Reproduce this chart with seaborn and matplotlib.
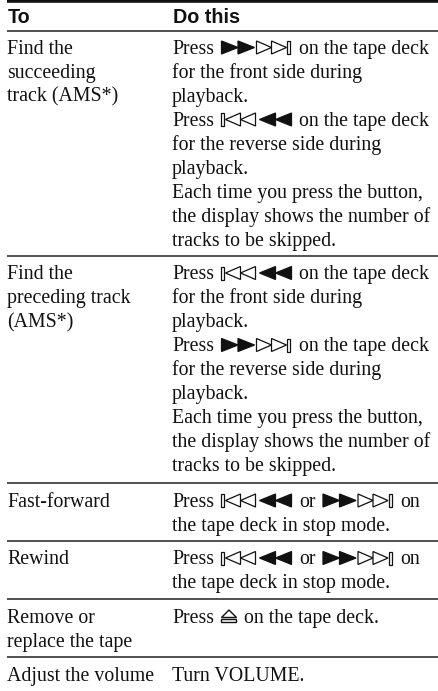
import re
import matplotlib
matplotlib.use('Agg')
import matplotlib.pyplot as plt
from matplotlib.patches import Polygon, Rectangle
import seaborn as sns

# Table content
header_to = "To"
header_do = "Do this"

to_labels = [
    ["Find the", "succeeding", "track (AMS*)"],
    ["Find the", "preceding track", "(AMS*)"],
    ["Fast-forward"],
    ["Rewind"],
    ["Remove or", "replace the tape"],
    ["Adjust the volume"],
]

do_labels = [
    ["Press {ff} on the tape deck", "for the front side during", "playback.",
     "Press {rw} on the tape deck", "for the reverse side during", "playback.",
     "Each time you press the button,", "the display shows the number of",
     "tracks to be skipped."],
    ["Press {rw} on the tape deck", "for the front side during", "playback.",
     "Press {ff} on the tape deck", "for the reverse side during", "playback.",
     "Each time you press the button,", "the display shows the number of",
     "tracks to be skipped."],
    ["Press {rw} or {ff} on", "the tape deck in stop mode."],
    ["Press {rw} or {ff} on", "the tape deck in stop mode."],
    ["Press {ej} on the tape deck."],
    ["Turn VOLUME."],
]

# Layout in pixels
row_first_baseline = [53.5, 279, 506.5, 564, 623, 681]
rule_y = [30.5, 256, 482.5, 541, 599, 657]
line_step = 24
to_x = 7.5
do_x = 172
gap = 7.5
ink = '#111111'
body_size = 14.3

sns.set_theme(style='white')
plt.rcParams['font.family'] = ['Liberation Serif', 'DejaVu Sans']

fig = plt.figure(figsize=(4.39, 6.91), dpi=100)
ax = fig.add_axes([0, 0, 1, 1])
ax.set_xlim(0, 439)
ax.set_ylim(691, 0)
ax.axis('off')
renderer = fig.canvas.get_renderer()


def tri(x0, x1, y, point_right, filled):
    h = 6.5
    if point_right:
        pts = [(x0, y - h), (x1, y), (x0, y + h)]
    else:
        pts = [(x1, y - h), (x0, y), (x1, y + h)]
    ax.add_patch(Polygon(pts, closed=True, fc=ink if filled else 'white', ec=ink, lw=0.9))


def draw_ff(x, base):
    y = base - 6
    tri(x, x + 16.5, y, True, True)
    tri(x + 16.5, x + 33, y, True, True)
    tri(x + 35, x + 50, y, True, False)
    tri(x + 50, x + 65, y, True, False)
    ax.add_patch(Rectangle((x + 66, y - 6.5), 3, 13, fc='white', ec=ink, lw=0.9))
    return x + 70


def draw_rw(x, base):
    y = base - 6
    ax.add_patch(Rectangle((x, y - 6.5), 3, 13, fc='white', ec=ink, lw=0.9))
    tri(x + 4, x + 19, y, False, False)
    tri(x + 19, x + 34, y, False, False)
    tri(x + 38, x + 54, y, False, True)
    tri(x + 54, x + 70, y, False, True)
    return x + 70


def draw_ej(x, base):
    ax.add_patch(Polygon([(x, base - 5.5), (x + 7.5, base - 13), (x + 15, base - 5.5)],
                         closed=True, fc='white', ec=ink, lw=1))
    ax.add_patch(Rectangle((x, base - 4), 15, 3, fc='white', ec=ink, lw=1))
    return x + 15


icons = {'ff': draw_ff, 'rw': draw_rw, 'ej': draw_ej}


def draw_line(x, base, line):
    for part in re.split(r'(\{\w+\})', line):
        part = part.strip()
        if not part:
            continue
        if part[0] == '{':
            x = icons[part[1:-1]](x, base) + gap
        else:
            t = ax.text(x, base, part, fontsize=body_size, color=ink, va='baseline', ha='left')
            x += t.get_window_extent(renderer).width + gap


# Rules
ax.hlines(1, 7, 439, color='#111111', lw=2.6)
ax.hlines(rule_y, 7, 439, color='#222222', lw=1.1)

# Header
ax.text(to_x, 22.5, header_to, family='Liberation Sans', weight='bold', fontsize=14.2,
        color=ink, va='baseline')
ax.text(do_x + 1, 22.5, header_do, family='Liberation Sans', weight='bold', fontsize=14.2,
        color=ink, va='baseline')

# Rows
for base, to_lines, do_lines in zip(row_first_baseline, to_labels, do_labels):
    for i, line in enumerate(to_lines):
        draw_line(to_x, base + i * line_step, line)
    for i, line in enumerate(do_lines):
        draw_line(do_x, base + i * line_step, line)

fig.savefig('out.png', dpi=100, facecolor='white')
